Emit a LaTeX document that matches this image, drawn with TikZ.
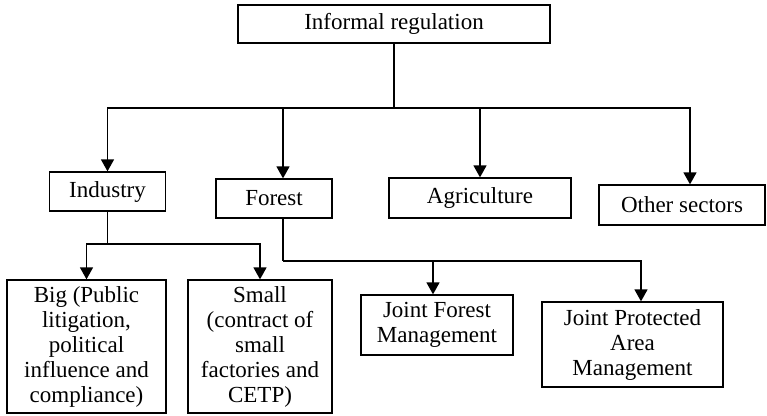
\documentclass[tikz,border=0pt]{standalone}
\usepackage{fontspec}
\setmainfont{Liberation Serif}
\usetikzlibrary{arrows.meta}
\begin{document}
\begin{tikzpicture}[x=1pt,y=-1pt,
  box/.style={draw,line width=1.3pt,inner sep=0pt,align=center,
    font=\fontsize{23}{25}\selectfont},
  conn/.style={line width=1.5pt},
  arr/.style={conn,-{Triangle[width=13pt,length=12pt]}}]
\useasboundingbox (0,0) rectangle (767,415);
\node[box,minimum width=312pt,minimum height=38pt] (top) at (394,24) {Informal regulation};
\node[box,minimum width=116pt,minimum height=39pt] (industry) at (107.5,191.5) {Industry};
\node[box,minimum width=116pt,minimum height=39pt] (forest) at (274,198.5) {Forest};
\node[box,minimum width=182pt,minimum height=40pt] (agri) at (480,198) {Agriculture};
\node[box,minimum width=166pt,minimum height=40pt] (other) at (682,205) {Other sectors};
\node[box,minimum width=159pt,minimum height=133pt] (big) at (86.5,346.5)
  {Big (Public\\litigation,\\political\\influence and\\compliance)};
\node[box,minimum width=144pt,minimum height=133pt] (small) at (260,346.5)
  {Small\\(contract of\\small\\factories and\\CETP)};
\node[box,minimum width=152pt,minimum height=60pt] (jfm) at (437,325)
  {Joint Forest\\Management};
\node[box,minimum width=181pt,minimum height=85pt] (jpam) at (632.5,344.5)
  {Joint Protected\\Area\\Management};
\coordinate (bus) at (394,108);
\coordinate (indbus) at (107.5,244);
\coordinate (forbus) at (283,261);
\draw[conn] (top.south) -- (bus);
\draw[arr] (bus) -| (industry.north);
\draw[arr] (bus) -| ([xshift=9pt]forest.north);
\draw[arr] (bus) -| (agri.north);
\draw[arr] (bus) -| ([xshift=8pt]other.north);
\draw[conn] (industry.south) -- (indbus);
\draw[arr] (indbus) -| (big.north);
\draw[arr] (indbus) -| (small.north);
\draw[conn] ([xshift=9pt]forest.south) -- (forbus);
\draw[arr] (forbus) -| ([xshift=-4pt]jfm.north);
\draw[arr] (forbus) -| ([xshift=8.5pt]jpam.north);
\end{tikzpicture}
\end{document}
